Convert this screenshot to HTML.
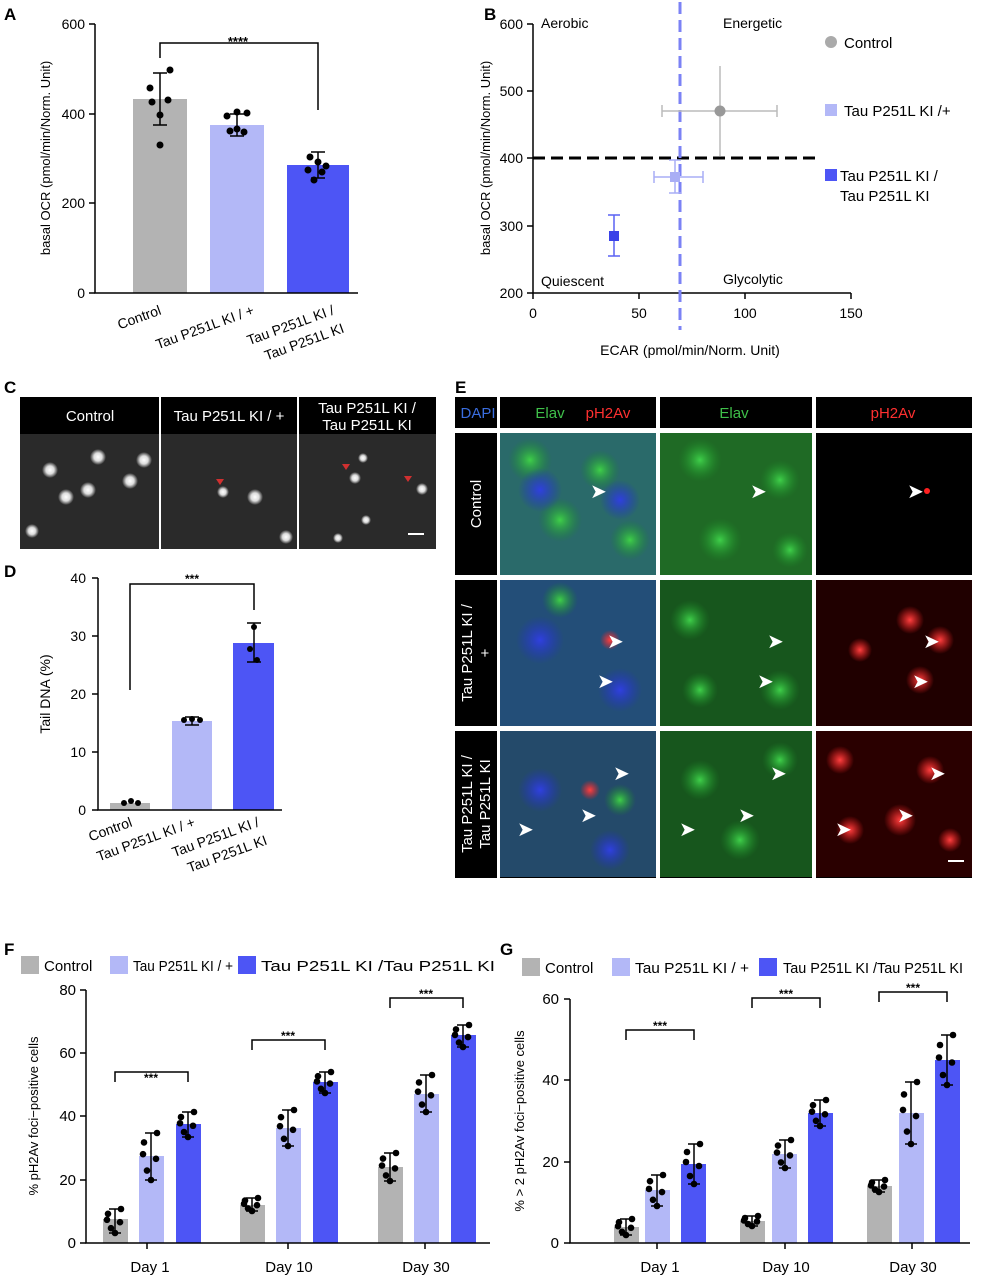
<!DOCTYPE html>
<html><head><meta charset="utf-8"><style>
body{margin:0;background:#fff}
svg{display:block;font-family:"Liberation Sans",Arial,sans-serif}
</style></head><body>
<svg id="s" width="990" height="1280" viewBox="0 0 990 1280" xmlns="http://www.w3.org/2000/svg">
<defs>
<radialGradient id="spot"><stop offset="0" stop-color="#fff"/><stop offset="0.5" stop-color="#ddd"/><stop offset="1" stop-color="#ddd" stop-opacity="0"/></radialGradient>
<radialGradient id="red"><stop offset="0" stop-color="#ff4040"/><stop offset="1" stop-color="#ff2020" stop-opacity="0"/></radialGradient>
<radialGradient id="grn"><stop offset="0" stop-color="#3fd04a"/><stop offset="1" stop-color="#1a8a25" stop-opacity="0"/></radialGradient>
<radialGradient id="blu"><stop offset="0" stop-color="#3040e0"/><stop offset="1" stop-color="#2030c0" stop-opacity="0"/></radialGradient>
</defs>
<g font-weight="bold" font-size="17">
<text x="4" y="20">A</text><text x="484" y="20">B</text><text x="4" y="393">C</text><text x="4" y="577">D</text><text x="455" y="393">E</text><text x="4" y="955">F</text><text x="500" y="955">G</text>
</g>
<!-- Panel A -->
<g font-size="14">
<rect x="133" y="99" width="54" height="194" fill="#b3b3b3"/>
<rect x="210" y="125" width="54" height="168" fill="#b3b8f7"/>
<rect x="287" y="165" width="62" height="128" fill="#4d55f5"/>
<g stroke="#000" stroke-width="1.5" fill="none">
<path d="M95 24V293H358"/><path d="M89 24H95M89 114H95M89 203H95M89 293H95"/>
<path d="M160 73V125M153 73H167M153 125H167"/>
<path d="M237 114V136M230 114H244M230 136H244"/>
<path d="M318 152V178M311 152H325M311 178H325"/>
<path d="M160 58V43H318V110"/>
</g>
<g fill="#000"><circle cx="150" cy="88" r="3.5"/><circle cx="170" cy="70" r="3.5"/><circle cx="160" cy="115" r="3.5"/><circle cx="160" cy="145" r="3.5"/><circle cx="168" cy="100" r="3.5"/><circle cx="152" cy="102" r="3.5"/>
<circle cx="227" cy="116" r="3.5"/><circle cx="247" cy="113" r="3.5"/><circle cx="230" cy="131" r="3.5"/><circle cx="244" cy="132" r="3.5"/><circle cx="237" cy="129" r="3.5"/><circle cx="237" cy="112" r="3.5"/>
<circle cx="310" cy="157" r="3.5"/><circle cx="326" cy="166" r="3.5"/><circle cx="314" cy="180" r="3.5"/><circle cx="322" cy="172" r="3.5"/><circle cx="318" cy="162" r="3.5"/><circle cx="308" cy="170" r="3.5"/></g>
<text x="238" y="46" text-anchor="middle" font-size="13" font-weight="bold">****</text>
<g text-anchor="end"><text x="85" y="29">600</text><text x="85" y="119">400</text><text x="85" y="208">200</text><text x="85" y="298">0</text></g>
<text transform="translate(50,158) rotate(-90)" text-anchor="middle" font-size="13">basal OCR (pmol/min/Norm. Unit)</text>
<text transform="translate(162,314) rotate(-20)" text-anchor="end">Control</text>
<text transform="translate(255,314) rotate(-20)" text-anchor="end">Tau P251L KI / +</text>
<text transform="translate(335,314) rotate(-20)" text-anchor="end">Tau P251L KI /</text>
<text transform="translate(345,332) rotate(-20)" text-anchor="end">Tau P251L KI</text>
</g>
<!-- Panel B -->
<g font-size="14">
<g stroke="#000" stroke-width="1.5" fill="none"><path d="M533 24V293H851"/><path d="M527 24H533M527 91H533M527 158H533M527 226H533M527 293H533M533 293V299M639 293V299M745 293V299M851 293V299"/></g>
<path d="M533 158H818" stroke="#000" stroke-width="3" stroke-dasharray="12,6"/>
<path d="M680 2V330" stroke="#7b82f5" stroke-width="3" stroke-dasharray="12,6"/>
<g stroke="#bbb" stroke-width="1.5"><path d="M662 111H777M720 66V156M662 105V117M777 105V117"/></g>
<circle cx="720" cy="111" r="5.5" fill="#999"/>
<g stroke="#a9aef5" stroke-width="1.5"><path d="M654 177H703M675 160V193M654 171V183M703 171V183M669 160H681M669 193H681"/></g>
<rect x="670" y="172" width="10" height="10" fill="#a9aef5"/>
<g stroke="#5a62f3" stroke-width="1.5"><path d="M614 215V256M608 215H620M608 256H620"/></g>
<rect x="609" y="231" width="10" height="10" fill="#3a42e8"/>
<text x="541" y="28">Aerobic</text><text x="723" y="28">Energetic</text><text x="541" y="286">Quiescent</text><text x="723" y="284">Glycolytic</text>
<g text-anchor="end"><text x="523" y="29">600</text><text x="523" y="96">500</text><text x="523" y="163">400</text><text x="523" y="231">300</text><text x="523" y="298">200</text></g>
<g text-anchor="middle"><text x="533" y="318">0</text><text x="639" y="318">50</text><text x="745" y="318">100</text><text x="851" y="318">150</text>
<text x="690" y="355">ECAR  (pmol/min/Norm. Unit)</text>
<text transform="translate(490,158) rotate(-90)" font-size="13">basal OCR (pmol/min/Norm. Unit)</text></g>
<circle cx="831" cy="42" r="6" fill="#aaa"/><text x="844" y="48" font-size="15">Control</text>
<rect x="825" y="104" width="12" height="12" fill="#b3b8f7"/><text x="844" y="116" font-size="15">Tau P251L KI /+</text>
<rect x="825" y="169" width="12" height="12" fill="#4d55f5"/><text x="840" y="181" font-size="15">Tau P251L KI /</text><text x="840" y="201" font-size="15">Tau P251L KI</text>
</g>
<!-- Panel C -->
<rect x="20" y="397" width="416" height="152" fill="#000"/>
<rect x="20" y="434" width="416" height="115" fill="#2a2a2a"/>
<path d="M160 397V549M298 397V549" stroke="#fff" stroke-width="2"/>
<g font-size="15" fill="#fff" text-anchor="middle"><text x="90" y="421">Control</text><text x="229" y="421">Tau P251L KI / +</text><text x="367" y="413">Tau P251L KI /</text><text x="367" y="430">Tau P251L KI</text></g>
<g fill="url(#spot)"><circle cx="98" cy="457" r="8"/><circle cx="144" cy="460" r="8"/><circle cx="50" cy="470" r="8"/><circle cx="130" cy="481" r="8"/><circle cx="88" cy="490" r="8"/><circle cx="66" cy="497" r="8"/><circle cx="32" cy="531" r="7"/><circle cx="255" cy="497" r="8"/><circle cx="223" cy="492" r="6"/><circle cx="286" cy="537" r="7"/><circle cx="355" cy="478" r="6"/><circle cx="422" cy="489" r="6"/><circle cx="366" cy="520" r="5"/><circle cx="363" cy="458" r="5"/><circle cx="338" cy="538" r="5"/></g>
<g fill="#d03030"><path d="M220 485l-4 -6h8z"/><path d="M346 470l-4 -6h8z"/><path d="M408 482l-4 -6h8z"/></g>
<rect x="408" y="533" width="16" height="2" fill="#fff"/>
<!-- Panel D -->
<g font-size="14">
<rect x="110" y="803" width="40" height="7" fill="#b3b3b3"/>
<rect x="172" y="721" width="40" height="89" fill="#b3b8f7"/>
<rect x="233" y="643" width="41" height="167" fill="#4d55f5"/>
<g stroke="#000" stroke-width="1.5" fill="none"><path d="M98 578V810H282"/><path d="M92 578H98M92 636H98M92 694H98M92 752H98M92 810H98"/>
<path d="M192 717V725M185 717H199M185 725H199M254 623V662M247 623H261M247 662H261"/>
<path d="M130 690V584H254V610"/></g>
<g fill="#000"><circle cx="124" cy="803" r="3"/><circle cx="131" cy="801" r="3"/><circle cx="138" cy="803" r="3"/><circle cx="184" cy="720" r="3"/><circle cx="192" cy="719" r="3"/><circle cx="200" cy="720" r="3"/><circle cx="254" cy="627" r="3"/><circle cx="250" cy="649" r="3"/><circle cx="257" cy="660" r="3"/></g>
<text x="192" y="583" text-anchor="middle" font-size="12" font-weight="bold">***</text>
<g text-anchor="end"><text x="86" y="583">40</text><text x="86" y="641">30</text><text x="86" y="699">20</text><text x="86" y="757">10</text><text x="86" y="815">0</text></g>
<text transform="translate(50,694) rotate(-90)" text-anchor="middle">Tail DNA (%)</text>
<text transform="translate(133,826) rotate(-20)" text-anchor="end">Control</text>
<text transform="translate(196,826) rotate(-20)" text-anchor="end">Tau P251L KI / +</text>
<text transform="translate(260,826) rotate(-20)" text-anchor="end">Tau P251L KI /</text>
<text transform="translate(268,844) rotate(-20)" text-anchor="end">Tau P251L KI</text>
</g>
<!-- Panel E -->
<rect x="455" y="397" width="517" height="481" fill="#000"/>
<rect x="455" y="428" width="517" height="5" fill="#fff"/>
<rect x="455" y="575" width="517" height="5" fill="#fff"/>
<rect x="455" y="726" width="517" height="5" fill="#fff"/>
<rect x="497" y="397" width="3" height="481" fill="#fff"/>
<rect x="656" y="397" width="4" height="481" fill="#fff"/>
<rect x="812" y="397" width="4" height="481" fill="#fff"/>
<g font-size="15" text-anchor="middle"><text x="478" y="418" fill="#3a6ee0">DAPI</text><text x="550" y="418" fill="#3fc04a">Elav</text><text x="608" y="418" fill="#ff3030">pH2Av</text><text x="734" y="418" fill="#3fc04a">Elav</text><text x="893" y="418" fill="#ff3030">pH2Av</text></g>
<g fill="#fff" font-size="15" text-anchor="middle"><text transform="translate(481,504) rotate(-90)">Control</text><text transform="translate(472,653) rotate(-90)">Tau P251L KI /</text><text transform="translate(490,653) rotate(-90)">+</text><text transform="translate(472,804) rotate(-90)">Tau P251L KI /</text><text transform="translate(490,804) rotate(-90)">Tau P251L KI</text></g>
<g>
<rect x="500" y="433" width="156" height="142" fill="#2a6a6a"/><rect x="500" y="580" width="156" height="146" fill="#234e78"/><rect x="500" y="731" width="156" height="146" fill="#244a6a"/>
<rect x="660" y="433" width="152" height="142" fill="#1f6a25"/><rect x="660" y="580" width="152" height="146" fill="#17561d"/><rect x="660" y="731" width="152" height="146" fill="#17561d"/>
<rect x="816" y="580" width="156" height="146" fill="#200000"/><rect x="816" y="731" width="156" height="146" fill="#2a0000"/>
</g>
<g fill="url(#grn)"><circle cx="530" cy="460" r="22"/><circle cx="600" cy="470" r="20"/><circle cx="560" cy="520" r="22"/><circle cx="630" cy="540" r="20"/><circle cx="700" cy="460" r="22"/><circle cx="780" cy="480" r="20"/><circle cx="720" cy="540" r="22"/><circle cx="790" cy="550" r="18"/><circle cx="690" cy="620" r="20"/><circle cx="780" cy="690" r="20"/><circle cx="700" cy="690" r="18"/><circle cx="700" cy="780" r="20"/><circle cx="780" cy="760" r="18"/><circle cx="740" cy="840" r="20"/><circle cx="560" cy="600" r="18"/><circle cx="620" cy="800" r="16"/></g>
<g fill="url(#blu)"><circle cx="540" cy="490" r="22"/><circle cx="620" cy="500" r="20"/><circle cx="540" cy="640" r="24"/><circle cx="620" cy="690" r="22"/><circle cx="540" cy="790" r="22"/><circle cx="610" cy="850" r="20"/></g>
<g fill="url(#red)"><circle cx="910" cy="620" r="14"/><circle cx="940" cy="640" r="14"/><circle cx="860" cy="650" r="12"/><circle cx="920" cy="680" r="14"/><circle cx="840" cy="760" r="14"/><circle cx="930" cy="770" r="14"/><circle cx="900" cy="820" r="16"/><circle cx="850" cy="830" r="14"/><circle cx="950" cy="840" r="12"/><circle cx="610" cy="640" r="10"/><circle cx="590" cy="790" r="10"/></g>
<circle cx="927" cy="491" r="3" fill="#ff2020"/>
<g fill="#fff" font-size="20"><text x="590" y="498">➤</text><text x="750" y="498">➤</text><text x="907" y="498">➤</text><text x="607" y="648">➤</text><text x="597" y="688">➤</text><text x="767" y="648">➤</text><text x="757" y="688">➤</text><text x="923" y="648">➤</text><text x="912" y="688">➤</text><text x="613" y="780">➤</text><text x="580" y="822">➤</text><text x="517" y="836">➤</text><text x="770" y="780">➤</text><text x="738" y="822">➤</text><text x="679" y="836">➤</text><text x="929" y="780">➤</text><text x="897" y="822">➤</text><text x="835" y="836">➤</text></g>
<rect x="948" y="860" width="16" height="2" fill="#fff"/>
<!-- Panel F -->
<g font-size="15">
<rect x="21" y="956" width="18" height="18" fill="#b3b3b3"/><text x="44" y="971">Control</text>
<rect x="110" y="956" width="18" height="18" fill="#b3b8f7"/><text x="133" y="971" textLength="100" lengthAdjust="spacingAndGlyphs">Tau P251L KI / +</text>
<rect x="238" y="956" width="18" height="18" fill="#4d55f5"/><text x="261" y="971" textLength="234" lengthAdjust="spacingAndGlyphs">Tau P251L KI /Tau P251L KI</text>
<g fill="#b3b3b3"><rect x="103" y="1219" width="25" height="24"/><rect x="240" y="1205" width="25" height="38"/><rect x="378" y="1167" width="25" height="76"/></g>
<g fill="#b3b8f7"><rect x="139" y="1156" width="25" height="87"/><rect x="276" y="1128" width="25" height="115"/><rect x="414" y="1094" width="25" height="149"/></g>
<g fill="#4d55f5"><rect x="176" y="1124" width="25" height="119"/><rect x="313" y="1082" width="25" height="161"/><rect x="451" y="1035" width="25" height="208"/></g>
<g stroke="#000" stroke-width="1.5" fill="none"><path d="M86 990V1243H490"/><path d="M80 990H86M80 1053H86M80 1116H86M80 1180H86M80 1243H86M147 1243V1249M288 1243V1249M425 1243V1249"/>
<path d="M115 1209V1233M109 1209H121M109 1233H121M151 1133V1180M145 1133H157M145 1180H157M188 1112V1137M182 1112H194M182 1137H194M252 1198V1211M246 1198H258M246 1211H258M288 1110V1146M282 1110H294M282 1146H294M325 1072V1093M319 1072H331M319 1093H331M390 1153V1181M384 1153H396M384 1181H396M426 1075V1112M420 1075H432M420 1112H432M463 1025V1047M457 1025H469M457 1047H469"/>
<path d="M115 1082V1072H188V1082M252 1050V1040H325V1050M390 1008V998H463V1008"/></g>
<text x="151" y="1082" font-size="12" font-weight="bold" text-anchor="middle">***</text><text x="288" y="1040" font-size="12" font-weight="bold" text-anchor="middle">***</text><text x="426" y="998" font-size="12" font-weight="bold" text-anchor="middle">***</text>
<g text-anchor="end"><text x="76" y="995">80</text><text x="76" y="1058">60</text><text x="76" y="1121">40</text><text x="76" y="1185">20</text><text x="76" y="1248">0</text></g>
<g text-anchor="middle"><text x="150" y="1272">Day 1</text><text x="289" y="1272">Day 10</text><text x="426" y="1272">Day 30</text><text transform="translate(38,1116) rotate(-90)" font-size="13">% pH2Av foci−positive cells</text></g>
</g>
<!-- Panel G -->
<g font-size="15">
<rect x="522" y="958" width="18" height="18" fill="#b3b3b3"/><text x="545" y="973">Control</text>
<rect x="612" y="958" width="18" height="18" fill="#b3b8f7"/><text x="635" y="973" textLength="114" lengthAdjust="spacingAndGlyphs">Tau P251L KI / +</text>
<rect x="759" y="958" width="18" height="18" fill="#4d55f5"/><text x="783" y="973" textLength="180" lengthAdjust="spacingAndGlyphs">Tau P251L KI /Tau P251L KI</text>
<g fill="#b3b3b3"><rect x="614" y="1227" width="25" height="16"/><rect x="740" y="1221" width="25" height="22"/><rect x="867" y="1186" width="25" height="57"/></g>
<g fill="#b3b8f7"><rect x="645" y="1190" width="25" height="53"/><rect x="772" y="1154" width="25" height="89"/><rect x="899" y="1113" width="25" height="130"/></g>
<g fill="#4d55f5"><rect x="681" y="1164" width="25" height="79"/><rect x="808" y="1113" width="25" height="130"/><rect x="935" y="1060" width="25" height="183"/></g>
<g stroke="#000" stroke-width="1.5" fill="none"><path d="M570 999V1243H970"/><path d="M564 999H570M564 1080H570M564 1162H570M564 1243H570M657 1243V1249M785 1243V1249M912 1243V1249"/>
<path d="M626 1219V1235M620 1219H632M620 1235H632M657 1175V1206M651 1175H663M651 1206H663M694 1144V1184M688 1144H700M688 1184H700M752 1216V1226M746 1216H758M746 1226H758M785 1140V1168M779 1140H791M779 1168H791M820 1100V1126M814 1100H826M814 1126H826M879 1180V1192M873 1180H885M873 1192H885M911 1082V1144M905 1082H917M905 1144H917M947 1035V1085M941 1035H953M941 1085H953"/>
<path d="M626 1040V1030H694V1040M752 1008V998H820V1008M879 1002V992H947V1002"/></g>
<text x="660" y="1030" font-size="12" font-weight="bold" text-anchor="middle">***</text><text x="786" y="998" font-size="12" font-weight="bold" text-anchor="middle">***</text><text x="913" y="992" font-size="12" font-weight="bold" text-anchor="middle">***</text>
<g text-anchor="end"><text x="559" y="1004">60</text><text x="559" y="1085">40</text><text x="559" y="1167">20</text><text x="559" y="1248">0</text></g>
<g text-anchor="middle"><text x="660" y="1272">Day 1</text><text x="786" y="1272">Day 10</text><text x="913" y="1272">Day 30</text><text transform="translate(524,1121) rotate(-90)" font-size="13">% &gt; 2 pH2Av foci−positive cells</text></g>
</g>
<g id="dots" fill="#000"></g>
</svg>
<script>
var g=document.getElementById('dots');
var bars=[[115,1209,1233],[151,1133,1180],[188,1112,1137],[252,1198,1211],[288,1110,1146],[325,1072,1093],[390,1153,1181],[426,1075,1112],[463,1025,1047],
[626,1219,1235],[657,1175,1206],[694,1144,1184],[752,1216,1226],[785,1140,1168],[820,1100,1126],[879,1180,1192],[911,1082,1144],[947,1035,1085]];
var off=[[-7,.2],[6,.0],[-4,.8],[5,.55],[0,1],[-8,.45]];
bars.forEach(function(b){off.forEach(function(o){var c=document.createElementNS('http://www.w3.org/2000/svg','circle');c.setAttribute('cx',b[0]+o[0]);c.setAttribute('cy',b[1]+(b[2]-b[1])*o[1]);c.setAttribute('r',3.3);g.appendChild(c);});});
</script>
</body></html>
